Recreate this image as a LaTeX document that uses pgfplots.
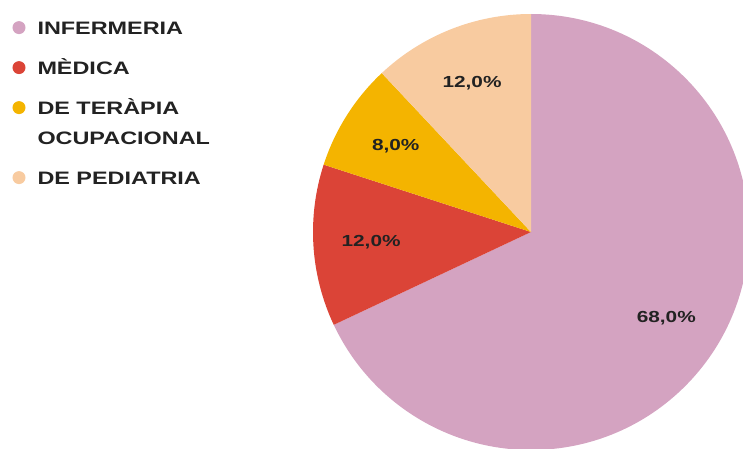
\documentclass[border=0pt]{standalone}
\usepackage{fontspec}
\setmainfont{Liberation Sans}[FakeStretch=1.3]
\usepackage{pgfplots}
\usepackage{pgfplotstable}
\pgfplotsset{compat=1.18}
\definecolor{cInf}{RGB}{212,163,193}
\definecolor{cMed}{RGB}{219,68,55}
\definecolor{cTer}{RGB}{244,180,0}
\definecolor{cPed}{RGB}{248,203,160}
\definecolor{txt}{RGB}{34,34,34}
\pgfplotstableread[col sep=comma]{
label,value,color
INFERMERIA,68,cInf
MÈDICA,12,cMed
DE TERÀPIA OCUPACIONAL,8,cTer
DE PEDIATRIA,12,cPed
}\piedata
\newcommand\legtab[1]{\begin{tabular}[t]{@{}l@{}}#1\end{tabular}}
\begin{document}
\begin{tikzpicture}
\def\cx{531}\def\cy{216}\def\R{218}\def\lf{0.735}
\def\total{0}
\pgfplotsforeachungrouped \i in {0,1,2,3}{%
  \pgfplotstablegetelem{\i}{value}\of\piedata
  \pgfmathsetmacro\total{\total+\pgfplotsretval}%
}
\def\cum{0}
\pgfplotsforeachungrouped \i in {0,1,2,3}{%
  \pgfplotstablegetelem{\i}{value}\of\piedata
  \let\v\pgfplotsretval
  \pgfmathsetmacro\a{90-\cum/\total*360}%
  \pgfmathsetmacro\b{90-(\cum+\v)/\total*360}%
  \pgfmathsetmacro\m{(\a+\b)/2}%
  \pgfmathsetmacro\cum{\cum+\v}%
  \pgfmathsetmacro\sx{\cx+\R*cos(\a)}%
  \pgfmathsetmacro\sy{\cy+\R*sin(\a)}%
  \pgfmathsetmacro\lx{\cx+\lf*\R*cos(\m)}%
  \pgfmathsetmacro\ly{\cy+\lf*\R*sin(\m)}%
  \pgfmathsetmacro\pc{\v/\total*100}%
  \expandafter\xdef\csname sa\i\endcsname{\a}%
  \expandafter\xdef\csname sb\i\endcsname{\b}%
  \expandafter\xdef\csname sx\i\endcsname{\sx}%
  \expandafter\xdef\csname sy\i\endcsname{\sy}%
  \expandafter\xdef\csname lx\i\endcsname{\lx}%
  \expandafter\xdef\csname ly\i\endcsname{\ly}%
  \expandafter\xdef\csname pc\i\endcsname{\pc}%
  \pgfplotstablegetelem{\i}{color}\of\piedata
  \expandafter\xdef\csname col\i\endcsname{\pgfplotsretval}%
}
\begin{axis}[
  scale only axis, width=743pt, height=448pt,
  xmin=0, xmax=743, ymin=0, ymax=448,
  hide axis,
  legend image code/.code={\fill[#1] (0pt,6.4pt) circle (6.5pt);},
  legend style={at={(axis cs:12.5,437)}, anchor=north west, draw=none, fill=none,
    inner sep=0pt, outer sep=0pt, row sep=13.5pt, column sep=0pt,
    font=\bfseries\fontsize{18}{30}\selectfont, text=txt,
    cells={anchor=base west, inner sep=0pt, text height=21pt, text depth=9pt},
    /tikz/every odd column/.append style={column sep=10pt}},
]
\begin{scope}
\clip (axis cs:0,0) rectangle (axis cs:743,448);
\pgfplotsinvokeforeach{0,1,2,3}{%
  \fill[color=\csname col#1\endcsname] (axis cs:\cx,\cy) -- (axis cs:\csname sx#1\endcsname,\csname sy#1\endcsname)
    arc[start angle=\csname sa#1\endcsname, end angle=\csname sb#1\endcsname, radius=\R pt] -- cycle;
}
\end{scope}
\pgfplotsinvokeforeach{0,1,2,3}{%
  \node[font=\bfseries\fontsize{16}{19}\selectfont, text=txt] at (axis cs:\csname lx#1\endcsname,\csname ly#1\endcsname)
    {\pgfmathprintnumber[fixed, fixed zerofill, precision=1, use comma, assume math mode=true]{\csname pc#1\endcsname}\%};
}
\addlegendimage{fill=cInf, draw=none}
\addlegendentry{\legtab{INFERMERIA}}
\addlegendimage{fill=cMed, draw=none}
\addlegendentry{\legtab{MÈDICA}}
\addlegendimage{fill=cTer, draw=none}
\addlegendentry[text depth=31.5pt]{\legtab{DE TERÀPIA\\OCUPACIONAL}}
\addlegendimage{fill=cPed, draw=none}
\addlegendentry{\legtab{DE PEDIATRIA}}
\end{axis}
\end{tikzpicture}
\end{document}
